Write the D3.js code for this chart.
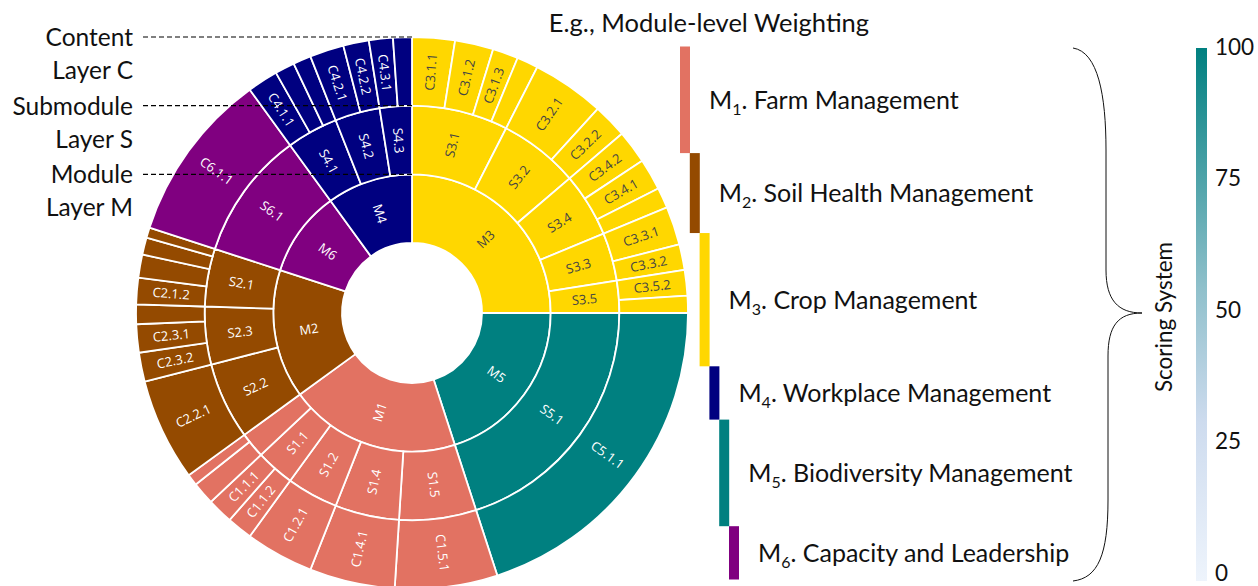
<!DOCTYPE html>
<html>
<head>
<meta charset="utf-8">
<script src="https://cdn.jsdelivr.net/npm/d3@7"></script>
<style>
  body { margin: 0; background: #fff; }
  svg { display: block; }
  .ann { font-family: Lato, "Open Sans", sans-serif; fill: #111; }
  .seg-label { font-family: "Open Sans", sans-serif; font-size: 13px; }
</style>
</head>
<body>
<div id="chart"></div>
<script>
const width = 1258;
const height = 586;

// Layer ids, clockwise from 12 o'clock. Parent is read from the id.
const moduleIds = ["M3", "M5", "M1", "M2", "M6", "M4"];
const submoduleIds = [
    "S3.1", "S3.2", "S3.4", "S3.3", "S3.5",
    "S5.1",
    "S1.5", "S1.4", "S1.2", "S1.1", "S1.3",
    "S2.2", "S2.3", "S2.1",
    "S6.1",
    "S4.1", "S4.2", "S4.3"
];
const contentIds = [
    "C3.1.1", "C3.1.2", "C3.1.3", "C3.1.4",
    "C3.2.1", "C3.2.2",
    "C3.4.2", "C3.4.1", "C3.4.3",
    "C3.3.1", "C3.3.2",
    "C3.5.2", "C3.5.1",
    "C5.1.1",
    "C1.5.1", "C1.4.1", "C1.2.1",
    "C1.1.2", "C1.1.1",
    "C1.3.1", "C1.3.2",
    "C2.2.1",
    "C2.3.2", "C2.3.1", "C2.3.3",
    "C2.1.2", "C2.1.1", "C2.1.3", "C2.1.4",
    "C6.1.1",
    "C4.1.1", "C4.1.2", "C4.1.3",
    "C4.2.1", "C4.2.2",
    "C4.3.1", "C4.3.2"
];
const contentValues = [
    2.5, 2.25, 1.5, 1.25,
    4.25, 2.0,
    1.95, 1.85, 1.2,
    2.25, 1.5,
    1.5, 1.0,
    20,
    6, 5, 4,
    1.5, 1.5,
    1.33, 0.67,
    6,
    1.7, 1.65, 1.15,
    1.55, 1.35, 1.0, 0.6,
    10,
    1.8, 1.15, 1.05,
    2.0, 1.5,
    1.4, 1.1
];

// Module-level weighting legend
const legendModules = ["1", "2", "3", "4", "5", "6"];
const legendNames = [
    "Farm Management", "Soil Health Management", "Crop Management",
    "Workplace Management", "Biodiversity Management", "Capacity and Leadership"
];
const legendWeights = [20, 15, 25, 10, 20, 10];

// Scoring colour bar
const scoreTicks = [0, 25, 50, 75, 100];
const scoreStops = [0, 0.3, 0.55, 1];
const scoreStopColors = ["#eef4fc", "#cddbee", "#8fc0cb", "#008080"];

const layerLines = ["Content", "Layer C", "Submodule", "Layer S", "Module", "Layer M"];

const moduleColor = {
    M1: "#e27262", M2: "#944a00", M3: "#ffd700",
    M4: "#000080", M5: "#008080", M6: "#800080"
};

const svg = d3.select("#chart").append("svg").attr("width", width).attr("height", height);

// ---------- Sunburst ----------
const cx = 412, cy = 313;

const rows = [{ id: "root", parent: null }]
    .concat(moduleIds.map((id) => ({ id, parent: "root" })))
    .concat(submoduleIds.map((id) => ({ id, parent: "M" + id[1] })))
    .concat(contentIds.map((id, i) => ({
        id, parent: "S" + id.slice(1, id.lastIndexOf(".")), value: contentValues[i]
    })));

const root = d3.stratify().id((d) => d.id).parentId((d) => d.parent)(rows)
    .sum((d) => d.value || 0);

d3.partition().size([2 * Math.PI, 4])(root);

const radius = d3.scaleLinear().domain([1, 4]).range([70, 276]);

const arc = d3.arc()
    .startAngle((d) => d.x0)
    .endAngle((d) => d.x1)
    .innerRadius((d) => radius(d.y0))
    .outerRadius((d) => radius(d.y1));

const moduleOf = (d) => d.ancestors().find((a) => a.depth === 1).id;

const sun = svg.append("g").attr("transform", `translate(${cx},${cy})`);
const nodes = root.descendants().filter((d) => d.depth > 0);

sun.selectAll("path")
    .data(nodes)
    .join("path")
    .attr("d", arc)
    .attr("fill", (d) => moduleColor[moduleOf(d)])
    .attr("stroke", "#fff")
    .attr("stroke-width", 1.8);

// labels: radial, hidden when the wedge is too narrow at its inner edge
sun.selectAll("text")
    .data(nodes.filter((d) => radius(d.y0) * (d.x1 - d.x0) >= 18))
    .join("text")
    .attr("class", "seg-label")
    .attr("text-anchor", "middle")
    .attr("dy", "0.35em")
    .attr("fill", (d) => moduleOf(d) === "M3" ? "#444" : "#fff")
    .attr("transform", (d) => {
        const a = (d.x0 + d.x1) / 2;
        const r = (radius(d.y0) + radius(d.y1)) / 2;
        let rot = a * 180 / Math.PI - 90;
        if (rot > 90) rot -= 180;
        return `translate(${r * Math.sin(a)},${-r * Math.cos(a)}) rotate(${rot})`;
    })
    .text((d) => d.id);

// ---------- Layer annotations ----------
const ringTops = [radius(4), radius(3), radius(2)];
ringTops.forEach((r, i) => {
    const y = cy - r;
    svg.append("line")
        .attr("x1", 143).attr("x2", cx)
        .attr("y1", y).attr("y2", y)
        .attr("stroke", "#000").attr("stroke-width", 1.1)
        .attr("stroke-dasharray", "5,3");
    svg.append("text").attr("class", "ann")
        .attr("x", 133).attr("y", y + 9)
        .attr("text-anchor", "end").attr("font-size", 24.5)
        .text(layerLines[i * 2]);
    svg.append("text").attr("class", "ann")
        .attr("x", 133).attr("y", y + 42)
        .attr("text-anchor", "end").attr("font-size", 24.5)
        .text(layerLines[i * 2 + 1]);
});

// ---------- Weighting legend ----------
svg.append("text").attr("class", "ann")
    .attr("x", 709).attr("y", 32)
    .attr("text-anchor", "middle").attr("font-size", 25.5)
    .text("E.g., Module-level Weighting");

const cum = d3.cumsum(legendWeights);
const wy = d3.scaleLinear().domain([0, d3.sum(legendWeights)]).range([46.5, 579.5]);

const legend = svg.append("g");
legendWeights.forEach((w, i) => {
    const y0 = wy(cum[i] - w), y1 = wy(cum[i]);
    const bx = 680 + 9.8 * i;
    const m = "M" + legendModules[i];
    legend.append("rect")
        .attr("x", bx).attr("y", y0)
        .attr("width", 10).attr("height", y1 - y0)
        .attr("fill", moduleColor[m]);
    const t = legend.append("text").attr("class", "ann")
        .attr("x", bx + 29).attr("y", (y0 + y1) / 2 + 9)
        .attr("font-size", 25);
    t.append("tspan").text("M");
    t.append("tspan").attr("font-size", 16).attr("dy", 6).text(legendModules[i]);
    t.append("tspan").attr("dy", -6).text(". " + legendNames[i]);
});

// curly brace
svg.append("path")
    .attr("d", "M1073,48 C1098,52 1106,95 1106,150 L1106,270 C1106,300 1118,313 1142,313 " +
               "C1118,313 1108,326 1108,356 L1108,500 C1108,555 1098,578 1073,581")
    .attr("fill", "none").attr("stroke", "#111").attr("stroke-width", 1);

svg.append("text").attr("class", "ann")
    .attr("transform", "translate(1172,317) rotate(-90)")
    .attr("text-anchor", "middle").attr("font-size", 22.5)
    .text("Scoring System");

// ---------- Colour bar ----------
const grad = svg.append("defs").append("linearGradient")
    .attr("id", "scoreGrad")
    .attr("x1", 0).attr("x2", 0).attr("y1", 1).attr("y2", 0);
scoreStops.forEach((s, i) => {
    grad.append("stop").attr("offset", s).attr("stop-color", scoreStopColors[i]);
});

const cbY = d3.scaleLinear().domain([0, 100]).range([573, 47]);
svg.append("rect")
    .attr("x", 1196).attr("y", 48)
    .attr("width", 11).attr("height", 533)
    .attr("fill", "url(#scoreGrad)");

const cbAxis = svg.append("g")
    .attr("transform", "translate(1212,0)")
    .call(d3.axisRight(cbY).tickValues(scoreTicks).tickSize(0).tickPadding(3));
cbAxis.select(".domain").remove();
cbAxis.selectAll("text")
    .attr("font-family", "Lato, 'Open Sans', sans-serif")
    .attr("font-size", 22.5)
    .attr("fill", "#111");
</script>
</body>
</html>
